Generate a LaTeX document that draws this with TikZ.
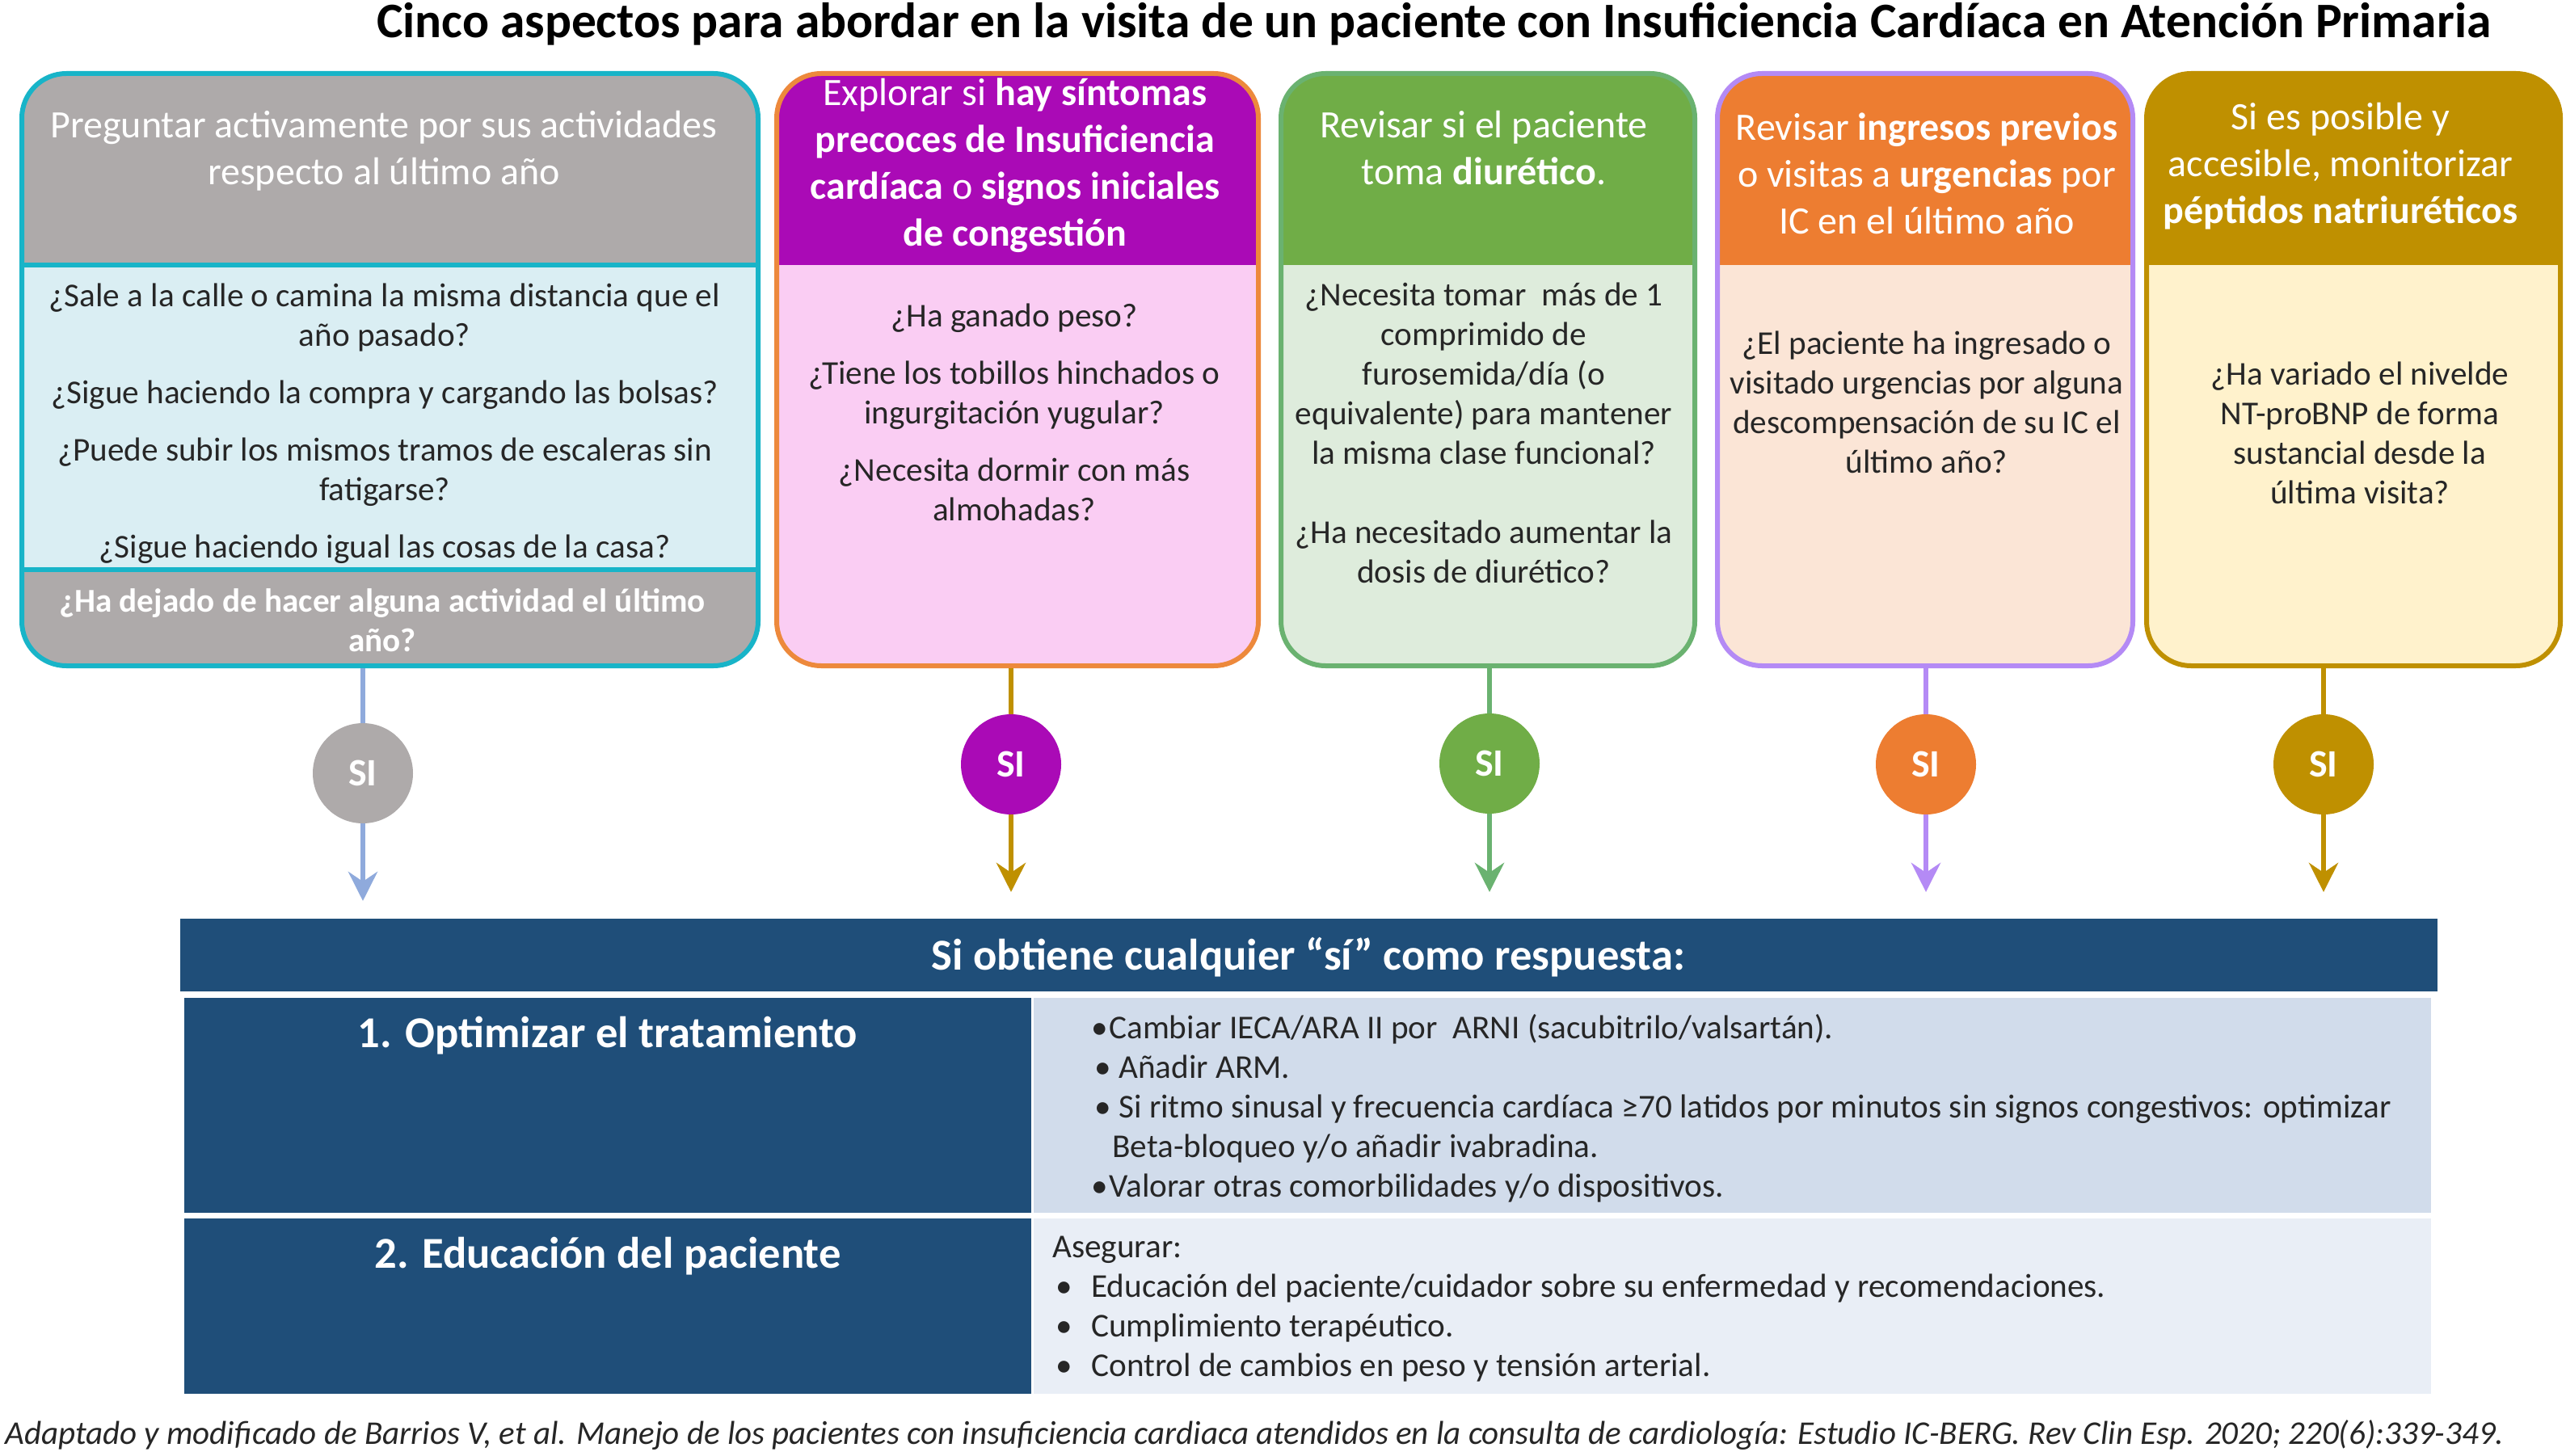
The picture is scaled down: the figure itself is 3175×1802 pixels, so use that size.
\documentclass[tikz,border=0pt]{standalone}
\usepackage{fontspec}
\setmainfont{Carlito}
\usetikzlibrary{arrows.meta,fit}

\definecolor{cyanb}{RGB}{24,180,200}
\definecolor{grayh}{RGB}{174,170,170}
\definecolor{lblue}{RGB}{218,238,243}
\definecolor{purh}{RGB}{170,10,182}
\definecolor{pinkb}{RGB}{250,205,243}
\definecolor{orb}{RGB}{237,137,60}
\definecolor{grh}{RGB}{112,173,71}
\definecolor{grb}{RGB}{222,236,220}
\definecolor{grl}{RGB}{106,178,112}
\definecolor{orh}{RGB}{237,125,49}
\definecolor{peach}{RGB}{251,229,214}
\definecolor{lav}{RGB}{180,138,245}
\definecolor{gold}{RGB}{191,144,0}
\definecolor{cream}{RGB}{255,242,204}
\definecolor{lnblue}{RGB}{143,170,220}
\definecolor{navy}{RGB}{31,78,121}
\definecolor{rowa}{RGB}{209,220,235}
\definecolor{rowb}{RGB}{233,238,246}
\definecolor{ink}{RGB}{38,38,38}

\newcommand\clines[1]{\vtop{\halign{\hfil##\hfil\cr#1\crcr}}}
\newcommand\llines[1]{\vtop{\halign{##\hfil\cr#1\crcr}}}
\newcommand\pgap{\cr\noalign{\vskip11pt}}
\newcommand\blankline{\cr\noalign{\vskip24.5pt}}
\newcommand\bul[2]{\hspace*{#1}\makebox[#2][l]{\textbullet}}
\newcommand\fbody{\fontsize{20.6pt}{24.5pt}\selectfont}
\newcommand\fhead{\fontsize{24pt}{29pt}\selectfont}
\newcommand\ftitle{\fontsize{30.75pt}{36pt}\selectfont}
\newcommand\fbar{\fontsize{27.3pt}{32pt}\selectfont}
\newcommand\fsi{\fontsize{24pt}{28pt}\selectfont}
\newcommand\ffoot{\fontsize{20.5pt}{24pt}\selectfont}
\newcommand\cardfill[6]{%
  \begin{scope}
    \clip[rounded corners=27.5pt] (#1,#2) rectangle (#3,#4);
    \fill[#6] (#1,#2) rectangle (#3,#4);
    \fill[#5] (#1,#2) rectangle (#3,328);
  \end{scope}}

\begin{document}
\begin{tikzpicture}[x=0.5pt,y=-0.5pt,
  card/.style={draw=#1, line width=3pt, rounded corners=27.5pt, inner sep=0pt},
  txt/.style={inner sep=0pt, anchor=base},
  htxt/.style={txt, text=white, font=\fhead},
  btxt/.style={txt, text=ink, font=\fbody},
  sinode/.style={circle, minimum size=62pt, inner sep=0pt, text=white, font=\fsi\bfseries},
  conn/.style={draw=#1, line width=3pt},
  arr/.style={conn=#1, -{Stealth[length=18pt,width=18pt,inset=6pt]}},
  cell/.style={inner sep=0pt, fill=#1},
]
\useasboundingbox (0,0) rectangle (3175,1802);
\fill[white] (0,0) rectangle (3175,1802);

% title
\node[txt, font=\ftitle\bfseries] (title) at (1774,47) {Cinco aspectos para abordar en la visita de un paciente con Insuficiencia Cardíaca en Atención Primaria};

% card 1
\begin{scope}
  \clip[rounded corners=27.5pt] (27,91) rectangle (938,824);
  \fill[lblue] (27,91) rectangle (938,824);
  \fill[grayh] (27,91) rectangle (938,328);
  \fill[grayh] (27,705) rectangle (938,824);
  \draw[cyanb, line width=3pt] (27,328) -- (938,328);
  \draw[cyanb, line width=3pt] (27,705) -- (938,705);
\end{scope}
\node[card=cyanb, fit={(27,91)(938,824)}] (b1) {};

% cards 2-5
\cardfill{961}{91}{1557}{824}{purh}{pinkb}
\node[card=orb, fit={(961,91)(1557,824)}] (b2) {};
\cardfill{1585}{91}{2097}{824}{grh}{grb}
\node[card=grl, fit={(1585,91)(2097,824)}] (b3) {};
\cardfill{2125}{91}{2639}{824}{orh}{peach}
\node[card=lav, fit={(2125,91)(2639,824)}] (b4) {};
\cardfill{2656}{91}{3168}{824}{gold}{cream}
\node[card=gold, fit={(2656,91)(3168,824)}] (b5) {};

% card texts
\node[htxt] (h1) at (475,171) {\clines{Preguntar activamente por sus actividades\cr
  respecto al último año}};
\node[btxt] (q1) at (476,380) {\clines{¿Sale a la calle o camina la misma distancia que el\cr
  año pasado?\pgap
  ¿Sigue haciendo la compra y cargando las bolsas?\pgap
  ¿Puede subir los mismos tramos de escaleras sin\cr
  fatigarse?\pgap
  ¿Sigue haciendo igual las cosas de la casa?}};
\node[txt, text=white, font=\fbody\bfseries] (f1) at (473,757) {\clines{¿Ha dejado de hacer alguna actividad el último\cr
  año?}};

\node[htxt] (h2) at (1256,131) {\clines{Explorar si \textbf{hay síntomas}\cr
  \textbf{precoces de Insuficiencia}\cr
  \textbf{cardíaca} o \textbf{signos iniciales}\cr
  \textbf{de congestión}}};
\node[btxt] (q2) at (1255,405) {\clines{¿Ha ganado peso?\pgap
  ¿Tiene los tobillos hinchados o\cr
  ingurgitación yugular?\pgap
  ¿Necesita dormir con más\cr
  almohadas?}};

\node[htxt] (h3) at (1836,171) {\clines{Revisar si el paciente\cr
  toma \textbf{diurético}.}};
\node[btxt] (q3) at (1836,379) {\clines{¿Necesita tomar\ \ más de 1\cr
  comprimido de\cr
  furosemida/día (o\cr
  equivalente) para mantener\cr
  la misma clase funcional?\blankline
  ¿Ha necesitado aumentar la\cr
  dosis de diurético?}};

\node[htxt] (h4) at (2384,174) {\clines{Revisar \textbf{ingresos previos}\cr
  o visitas a \textbf{urgencias} por\cr
  IC en el último año}};
\node[btxt] (q4) at (2384,439) {\clines{¿El paciente ha ingresado o\cr
  visitado urgencias por alguna\cr
  descompensación de su IC el\cr
  último año?}};

\node[htxt] (h5) at (2896,161) {\clines{Si es posible y\cr
  accesible, monitorizar\cr
  \textbf{péptidos natriuréticos}}};
\node[btxt] (q5) at (2920,477) {\clines{¿Ha variado el nivelde\cr
  NT-proBNP de forma\cr
  sustancial desde la\cr
  última visita?}};

% SI nodes and connectors
\node[sinode, fill=grayh] (c1) at (449,957) {SI};
\node[sinode, fill=purh] (c2) at (1251,946) {SI};
\node[sinode, fill=grh] (c3) at (1843,945) {SI};
\node[sinode, fill=orh] (c4) at (2383,946) {SI};
\node[sinode, fill=gold] (c5) at (2875,946) {SI};
\coordinate (a1) at (449,1115);
\coordinate (a2) at (1251,1104);
\coordinate (a3) at (1843,1104);
\coordinate (a4) at (2383,1104);
\coordinate (a5) at (2875,1104);
\draw[conn=lnblue] (c1 |- b1.south) -- (c1.north);
\draw[arr=lnblue] (c1.south) -- (a1);
\draw[conn=gold] (c2 |- b2.south) -- (c2.north);
\draw[arr=gold] (c2.south) -- (a2);
\draw[conn=grl] (c3 |- b3.south) -- (c3.north);
\draw[arr=grl] (c3.south) -- (a3);
\draw[conn=lav] (c4 |- b4.south) -- (c4.north);
\draw[arr=lav] (c4.south) -- (a4);
\draw[conn=gold] (c5 |- b5.south) -- (c5.north);
\draw[arr=gold] (c5.south) -- (a5);

% table
\node[cell=navy, fit={(223,1137)(3016,1227)}] (bar) {};
\node[txt, text=white, font=\fbar\bfseries] (bart) at (1619,1200) {Si obtiene cualquier “sí” como respuesta:};
\node[cell=navy, fit={(228,1235)(1276,1501)}] (l1) {};
\node[cell=rowa, fit={(1279,1235)(3008,1501)}] (r1) {};
\node[cell=navy, fit={(228,1508)(1276,1725)}] (l2) {};
\node[cell=rowb, fit={(1279,1508)(3008,1725)}] (r2) {};
\node[txt, text=white, font=\fbar\bfseries] (l1t) at (752,1296) {1. Optimizar el tratamiento};
\node[txt, text=white, font=\fbar\bfseries] (l2t) at (752,1569) {2. Educación del paciente};
\node[txt, anchor=base west, text=ink, font=\fbody] (r1t) at (1350,1285) {\llines{%
  \bul{0pt}{11pt}Cambiar IECA/ARA II por\ \ ARNI (sacubitrilo/valsartán).\cr
  \bul{2pt}{15pt}Añadir ARM.\cr
  \bul{2pt}{15pt}Si ritmo sinusal y frecuencia cardíaca ≥70 latidos por minutos sin signos congestivos: optimizar\cr
  \hspace*{13pt}Beta-bloqueo y/o añadir ivabradina.\cr
  \bul{0pt}{11pt}Valorar otras comorbilidades y/o dispositivos.}};
\node[txt, anchor=base west, text=ink, font=\fbody] (r2t) at (1302,1556) {\llines{%
  Asegurar:\cr
  \bul{2pt}{22pt}Educación del paciente/cuidador sobre su enfermedad y recomendaciones.\cr
  \bul{2pt}{22pt}Cumplimiento terapéutico.\cr
  \bul{2pt}{22pt}Control de cambios en peso y tensión arterial.}};

% source
\node[txt, anchor=base west, text=ink, font=\ffoot\itshape] (src) at (6,1787) {Adaptado y modificado de Barrios V, et al. Manejo de los pacientes con insuficiencia cardiaca atendidos en la consulta de cardiología: Estudio IC-BERG. Rev Clin Esp. 2020; 220(6):339-349.};
\end{tikzpicture}
\end{document}
